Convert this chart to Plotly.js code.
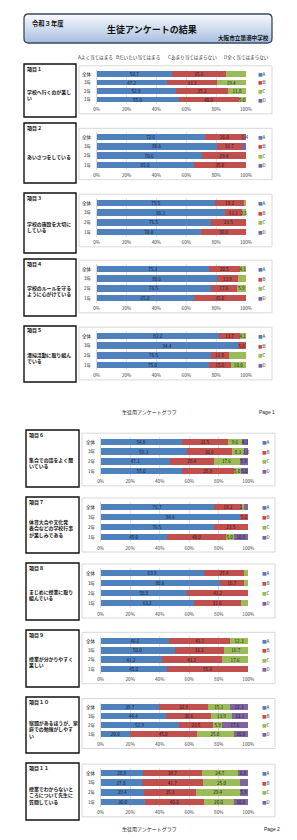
<!DOCTYPE html>
<html><head><meta charset="utf-8">
<script src="https://cdn.plot.ly/plotly-3.0.1.min.js"></script>
<style>html,body{margin:0;padding:0;background:#fff}#chart{width:297px;height:840px}</style>
</head><body><div id="chart"></div>
<script>
// ---------- DATA ----------
const categories = ['全体','3年','2年','1年'];
const seriesNames = ['A','B','C','D'];
const scaleLabels = ['Aよく当てはまる','Bだいたい当てはまる','Cあまり当てはまらない','D全く当てはまらない'];
const itemNumbers = ['項目１','項目２','項目３','項目４','項目５','項目６','項目７','項目８','項目９','項目１０','項目１１'];
const itemQuestions = [
  ['学校へ行くのが楽し','い'],
  ['あいさつをしている'],
  ['学校の施設を大切に','している'],
  ['学校のルールを守る','ように心がけている'],
  ['清掃活動に取り組ん','でいる'],
  ['集会での話をよく聞','いている'],
  ['体育大会や文化発','表会などの学校行事','が楽しみである'],
  ['まじめに授業に取り','組んでいる'],
  ['授業が分かりやすく','楽しい'],
  ['宿題があるほうが、家','庭での勉強がしやす','い'],
  ['授業でわからないと','ころについて先生に','質問している']
];
// rows: item1..item11 ; columns: 全体, 3年, 2年, 1年
const valuesA = [[50.7,47.2,52.9,55.0],[72.6,80.6,70.6,65.0],[79.5,86.1,76.5,70.0],[75.3,80.6,76.5,65.0],[82.2,94.4,76.5,75.0],
                 [54.8,58.3,47.1,55.0],[76.7,94.4,76.5,45.0],[69.9,80.6,58.8,63.2],[46.6,50.0,41.2,45.0],[39.7,44.4,52.9,20.0],[28.8,27.8,29.4,30.0]];
const valuesB = [[35.6,33.3,35.3,40.0],[26.0,16.7,29.4,35.0],[19.2,11.1,23.5,30.0],[20.5,13.9,17.6,35.0],[13.7,5.6,11.8,15.0],
                 [31.5,30.6,29.4,35.0],[19.2,5.6,23.5,40.0],[27.4,16.7,41.2,31.6],[41.1,33.3,41.2,55.0],[32.9,30.6,23.5,45.0],[39.7,41.7,35.3,40.0]];
const valuesC = [[13.7,19.4,11.8,5.0],[0,0,0,0],[1.4,2.8,0,0],[4.1,5.6,5.9,0],[4.1,0,11.8,10.0],
                 [9.6,8.3,17.6,5.0],[1.4,0,0,5.0],[2.7,2.8,0,5.3],[12.3,16.7,17.6,0],[15.1,13.9,5.9,25.0],[24.7,25.0,29.4,20.0]];
const valuesD = [[0,0,0,0],[1.4,2.8,0,0],[0,0,0,0],[0,0,0,0],[0,0,0,0],
                 [4.1,2.8,5.9,5.0],[2.7,0,0,10.0],[0,0,0,0],[0,0,0,0],[12.3,11.1,17.6,10.0],[6.8,5.6,5.9,10.0]];
const xTickValues = [0,20,40,60,80,100];
const xTickLabels = ['0%','20%','40%','60%','80%','100%'];
const headerYear = '令和３年度';
const headerTitle = '生徒アンケートの結果';
const headerSchool = '大阪市立築港中学校';
const footerText = '生徒用アンケートグラフ';
const pageLabels = ['Page 1','Page 2'];

// ---------- STYLE / GEOMETRY ----------
const W = 297, H = 840;
const FONT = 'Noto Sans CJK JP, Liberation Sans, sans-serif';
const seriesColors = ['#4F81BD','#C0504D','#9BBB59','#8064A2'];
const seriesValues = [valuesA, valuesB, valuesC, valuesD];
const rowTop =    [74, 137, 203, 269, 336, 442, 507, 573, 641, 707, 773];
const rowBottom = [99.5,165,232, 298, 365, 471, 537, 603, 669, 734, 802];
const boxTop =    [64, 123, 193, 259, 326, 430, 497, 563, 630, 697, 763];
const boxBottom = [117,183, 253, 316, 382, 487, 553, 620, 687, 753, 820];
const itemPage =  [0,0,0,0,0,1,1,1,1,1,1];
const pageGeom = [
  {plotX0:96.7, plotX1:246, boxL0:24, boxL1:76, chartX0:79, chartX1:272, legendX:257, footY:412},
  {plotX0:100.7, plotX1:248.3, boxL0:26, boxL1:79, chartX0:82, chartX1:275, legendX:261, footY:829}
];
const px = x => x / W;
const py = y => 1 - y / H;

const traces = [];
const layout = {
  width: W, height: H, margin: {l:0, r:0, t:0, b:0},
  paper_bgcolor: '#ffffff', plot_bgcolor: 'rgba(0,0,0,0)',
  barmode: 'stack', bargap: 0.32, showlegend: false,
  font: {family: FONT, size: 5, color: '#333'},
  uniformtext: {minsize: 4.6, mode: 'show'},
  shapes: [], annotations: []
};

function ann(text, x, y, opts) {
  layout.annotations.push(Object.assign({
    text: text, x: px(x), y: py(y), xref: 'paper', yref: 'paper',
    showarrow: false, xanchor: 'left', yanchor: 'middle', borderpad: 0,
    font: {family: FONT, size: 5.3, color: '#111'}
  }, opts || {}));
}

function rrPath(x0, y0, x1, y1, r, squareTop) {
  const X = v => px(v).toFixed(5), Y = v => py(v).toFixed(5);
  if (squareTop) {
    return `M${X(x0)},${Y(y0)} L${X(x1)},${Y(y0)} L${X(x1)},${Y(y1-r)} Q${X(x1)},${Y(y1)} ${X(x1-r)},${Y(y1)} L${X(x0+r)},${Y(y1)} Q${X(x0)},${Y(y1)} ${X(x0)},${Y(y1-r)} Z`;
  }
  return `M${X(x0+r)},${Y(y0)} L${X(x1-r)},${Y(y0)} Q${X(x1)},${Y(y0)} ${X(x1)},${Y(y0+r)} L${X(x1)},${Y(y1-r)} Q${X(x1)},${Y(y1)} ${X(x1-r)},${Y(y1)} L${X(x0+r)},${Y(y1)} Q${X(x0)},${Y(y1)} ${X(x0)},${Y(y1-r)} L${X(x0)},${Y(y0+r)} Q${X(x0)},${Y(y0)} ${X(x0+r)},${Y(y0)} Z`;
}

// header gradient box
const hx0 = 24, hx1 = 272, hy0 = 14, hy1 = 43, hr = 4.5;
const c0 = [246, 248, 252], c1 = [168, 192, 224];
layout.shapes.push({type:'path', path: rrPath(hx0,hy0,hx1,hy1,hr,false), xref:'paper', yref:'paper',
  fillcolor: `rgb(${c0.join(',')})`, line:{width:0}});
const NG = 14;
for (let g = 1; g < NG; g++) {
  const t = g / (NG - 1);
  const col = c0.map((c, k) => Math.round(c + (c1[k] - c) * t));
  const yy = hy0 + (hy1 - hy0) * g / NG;
  layout.shapes.push({type:'path', path: rrPath(hx0,yy,hx1,hy1,hr,true), xref:'paper', yref:'paper',
    fillcolor: `rgb(${col.join(',')})`, line:{width:0}});
}
layout.shapes.push({type:'path', path: rrPath(hx0,hy0,hx1,hy1,hr,false), xref:'paper', yref:'paper',
  fillcolor:'rgba(0,0,0,0)', line:{color:'#3b4a60', width:1.3}});
ann(headerYear, 31, 23, {font:{family:FONT, size:6.3, color:'#111', weight:'bold'}});
ann(headerTitle, 152, 30, {xanchor:'center', font:{family:FONT, size:9, color:'#111', weight:'bold'}});
ann(headerSchool, 270, 38.5, {xanchor:'right', font:{family:FONT, size:5.6, color:'#111', weight:'bold'}});

// scale description line
const scaleX = [77, 115, 167, 223];
scaleLabels.forEach((s, k) => ann(s, scaleX[k], 58, {font:{family:FONT, size:4.6, color:'#333'}}));

// footers
pageGeom.forEach((g, p) => {
  ann(footerText, 149, g.footY, {xanchor:'center', font:{family:FONT, size:5, color:'#222'}});
  ann(pageLabels[p], p === 0 ? 258 : 263, g.footY, {font:{family:'Liberation Sans, sans-serif', size:5, color:'#222'}});
});

// items
for (let i = 0; i < 11; i++) {
  const g = pageGeom[itemPage[i]];
  const s = (rowBottom[i] - rowTop[i]) / 3;
  const top = rowTop[i] - s / 2, bot = rowBottom[i] + s / 2;
  const n = i === 0 ? '' : String(i + 1);
  const xa = 'x' + n, ya = 'y' + n;
  layout['xaxis' + n] = {
    domain: [px(g.plotX0), px(g.plotX1)], anchor: ya, range: [0, 100], fixedrange: true,
    tickvals: xTickValues, ticktext: xTickLabels, ticks: '', showline: false, zeroline: false,
    showgrid: true, gridcolor: '#d0d0d0', gridwidth: 0.6,
    tickfont: {family: FONT, size: 4.6, color: '#404040'}, ticklabelstandoff: 2
  };
  layout['yaxis' + n] = {
    domain: [py(bot), py(top)], anchor: xa, type: 'category', categoryarray: categories,
    range: [3.5, -0.5], fixedrange: true, ticks: '', showgrid: false, zeroline: false,
    showline: true, linecolor: '#bfbfbf', linewidth: 0.6,
    tickfont: {family: FONT, size: 4.6, color: '#222'}, ticklabelstandoff: 4
  };
  seriesValues.forEach((vals, k) => {
    traces.push({
      type: 'bar', orientation: 'h', xaxis: xa, yaxis: ya,
      y: categories, x: vals[i], name: seriesNames[k],
      marker: {color: seriesColors[k], line: {width: 0}},
      text: vals[i].map(v => v > 0 ? v.toFixed(1) : ''),
      textposition: 'inside', insidetextanchor: 'middle', textangle: 0,
      constraintext: 'none', cliponaxis: false,
      textfont: {family: FONT, size: 4.6, color: '#1a1a2a'},
      hoverinfo: 'skip'
    });
  });
  // left question box
  layout.shapes.push({type:'rect', xref:'paper', yref:'paper',
    x0: px(g.boxL0), x1: px(g.boxL1), y0: py(boxBottom[i]), y1: py(boxTop[i]),
    line: {color:'#111', width:1.4}, fillcolor:'rgba(0,0,0,0)'});
  // chart area box
  layout.shapes.push({type:'rect', xref:'paper', yref:'paper',
    x0: px(g.chartX0), x1: px(g.chartX1), y0: py(bot + 10), y1: py(top - 4),
    line: {color:'#c8c8c8', width:0.7}, fillcolor:'rgba(0,0,0,0)'});
  // item number + question
  ann(itemNumbers[i], g.boxL0 + 2, boxTop[i] + 4.5, {font:{family:FONT, size:5, color:'#111', weight:'bold'}});
  const mid = (boxTop[i] + boxBottom[i]) / 2 + 3.5;
  ann(itemQuestions[i].join('<br>'), g.boxL0 + 2, mid, {align:'left', font:{family:FONT, size:4.9, color:'#111', weight:'bold'}});
  // legend
  seriesNames.forEach((nm, k) => {
    const yy = rowTop[i] + k * s;
    ann(`<span style="color:${seriesColors[k]}">■</span>${nm}`, g.legendX, yy, {font:{family:FONT, size:4.6, color:'#333'}});
  });
}

Plotly.newPlot('chart', traces, layout, {displayModeBar: false, staticPlot: true});
</script>
</body></html>
